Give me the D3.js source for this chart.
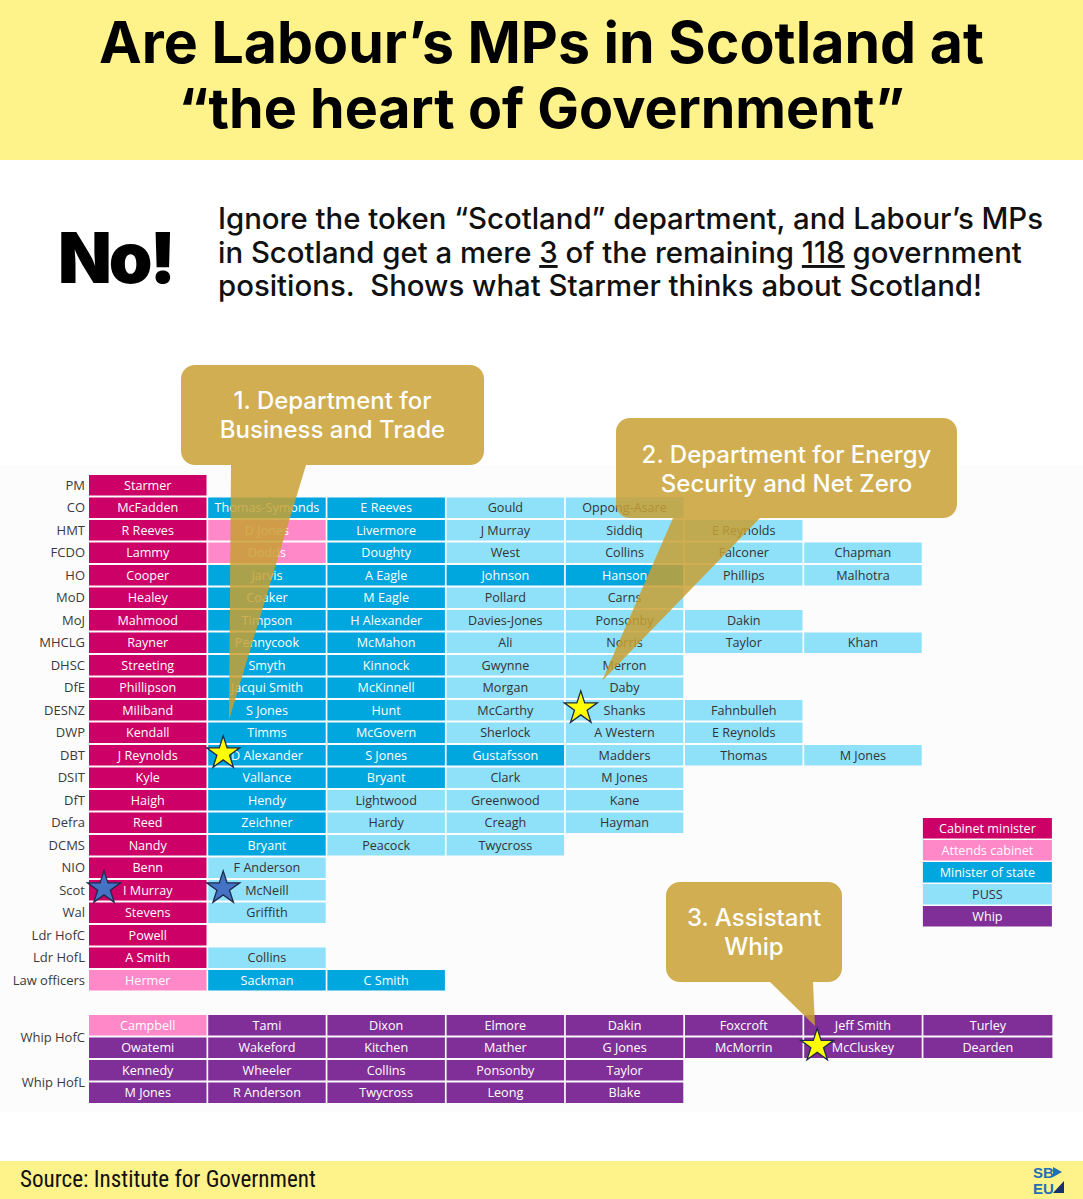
<!DOCTYPE html>
<html><head><meta charset="utf-8">
<script src="https://cdn.jsdelivr.net/npm/d3@7"></script>
<style>html,body{margin:0;padding:0;background:#fff;}svg{display:block;}</style>
</head><body>
<script>
// ---------- DATA ----------
const departments = ["PM","CO","HMT","FCDO","HO","MoD","MoJ","MHCLG","DHSC","DfE","DESNZ","DWP","DBT","DSIT","DfT","Defra","DCMS","NIO","Scot","Wal","Ldr HofC","Ldr HofL","Law officers"];
const ministers = [
  ["Starmer"],
  ["McFadden","Thomas-Symonds","E Reeves","Gould","Oppong-Asare"],
  ["R Reeves","D Jones","Livermore","J Murray","Siddiq","E Reynolds"],
  ["Lammy","Dodds","Doughty","West","Collins","Falconer","Chapman"],
  ["Cooper","Jarvis","A Eagle","Johnson","Hanson","Phillips","Malhotra"],
  ["Healey","Coaker","M Eagle","Pollard","Carns"],
  ["Mahmood","Timpson","H Alexander","Davies-Jones","Ponsonby","Dakin"],
  ["Rayner","Pennycook","McMahon","Ali","Norris","Taylor","Khan"],
  ["Streeting","Smyth","Kinnock","Gwynne","Merron"],
  ["Phillipson","Jacqui Smith","McKinnell","Morgan","Daby"],
  ["Miliband","S Jones","Hunt","McCarthy","Shanks","Fahnbulleh"],
  ["Kendall","Timms","McGovern","Sherlock","A Western","E Reynolds"],
  ["J Reynolds","D Alexander","S Jones","Gustafsson","Madders","Thomas","M Jones"],
  ["Kyle","Vallance","Bryant","Clark","M Jones"],
  ["Haigh","Hendy","Lightwood","Greenwood","Kane"],
  ["Reed","Zeichner","Hardy","Creagh","Hayman"],
  ["Nandy","Bryant","Peacock","Twycross"],
  ["Benn","F Anderson"],
  ["I Murray","McNeill"],
  ["Stevens","Griffith"],
  ["Powell"],
  ["A Smith","Collins"],
  ["Hermer","Sackman","C Smith"]
];
// C = Cabinet minister, A = Attends cabinet, M = Minister of state, P = PUSS, W = Whip
const roles = ["C","CMMPP","CAMPPP","CAMPPPP","CMMMMPP","CMMPP","CMMPPP","CMMPPPP","CMMPP","CMMPP","CMMPPP","CMMPPP","CMMMPPP","CMMPP","CMPPP","CMPPP","CMPP","CP","CP","CP","C","CP","AMM"];

const whipGroups = ["Whip HofC","Whip HofL"];
const whips = [
  ["Campbell","Tami","Dixon","Elmore","Dakin","Foxcroft","Jeff Smith","Turley"],
  ["Owatemi","Wakeford","Kitchen","Mather","G Jones","McMorrin","McCluskey","Dearden"],
  ["Kennedy","Wheeler","Collins","Ponsonby","Taylor"],
  ["M Jones","R Anderson","Twycross","Leong","Blake"]
];
const whipRoles = ["AWWWWWWW","WWWWWWWW","WWWWW","WWWWW"];

const legendKeys = ["C","A","M","P","W"];
const legendLabels = ["Cabinet minister","Attends cabinet","Minister of state","PUSS","Whip"];

// highlighted people: [row label, column index, star type]
const stars = [
  ["DBT",1,"yellow"],["DESNZ",4,"yellow"],["Scot",0,"blue"],["Scot",1,"blue"]
];
const whipStars = [[1,6,"yellow"]];

const callouts = [
  {lines:["1. Department for","Business and Trade"]},
  {lines:["2. Department for Energy","Security and Net Zero"]},
  {lines:["3. Assistant","Whip"]}
];

// ---------- STYLE ----------
const W = 1083, H = 1199;
const fills = {C:"#cc0066",A:"#ff88c8",M:"#00a6de",P:"#8fe1fa",W:"#7f2f97"};
const textFills = {C:"#ffffff",A:"#ffffff",M:"#ffffff",P:"#333333",W:"#ffffff"};
const starFills = {yellow:"#ffff00",blue:"#4472c4"};
const FONT = "'Open Sans', 'Noto Sans', sans-serif";
const HEAD = "Inter, 'Open Sans', sans-serif";

const svg = d3.select("body").append("svg").attr("width",W).attr("height",H);

function fit(sel, w){
  const len = sel.node().getComputedTextLength();
  const fs = parseFloat(sel.attr("font-size"));
  sel.attr("font-size", fs*w/len);
}

// backgrounds
svg.append("rect").attr("x",0).attr("y",0).attr("width",W).attr("height",H).attr("fill","#ffffff");
svg.append("rect").attr("x",0).attr("y",0).attr("width",W).attr("height",160).attr("fill","#fef28b");
svg.append("rect").attr("x",0).attr("y",465).attr("width",W).attr("height",647).attr("fill","#fcfcfc");
svg.append("rect").attr("x",0).attr("y",1161).attr("width",W).attr("height",38).attr("fill","#fef28b");

// title
const t1 = svg.append("text").attr("x",W/2).attr("y",63).attr("text-anchor","middle")
  .attr("font-family",HEAD).attr("font-weight",700).attr("font-size",52).attr("fill","#000")
  .text("Are Labour’s MPs in Scotland at");
fit(t1, 885);
const t2 = svg.append("text").attr("x",W/2).attr("y",128).attr("text-anchor","middle")
  .attr("font-family",HEAD).attr("font-weight",700).attr("font-size",52).attr("fill","#000")
  .text("“the heart of Government”");
fit(t2, 726);

// No!
const no = svg.append("text").attr("x",58).attr("y",283)
  .attr("font-family",HEAD).attr("font-weight",900).attr("font-size",76).attr("fill","#000")
  .attr("letter-spacing",-3).text("No!");
fit(no, 116);

// paragraph
const para = [
  [["Ignore the token “Scotland” department, and Labour’s MPs",false]],
  [["in Scotland get a mere ",false],["3",true],[" of the remaining ",false],["118",true],[" government",false]],
  [["positions.\u00a0 Shows what Starmer thinks about Scotland!",false]]
];
const paraW = [825, 812, 767];
const paraY = [229, 263, 296];
let pfs = null;
para.forEach((ln,i)=>{
  const t = svg.append("text").attr("x",218).attr("y",paraY[i])
    .attr("font-family",HEAD).attr("font-weight",500).attr("font-size",28).attr("fill","#111");
  ln.forEach(([s,u])=>{
    const ts = t.append("tspan").text(s);
    if(u) ts.attr("text-decoration","underline");
  });
  if(i===0){ fit(t, paraW[0]); pfs = parseFloat(t.attr("font-size")); }
  else t.attr("font-size", pfs);
});

// ---------- GRID ----------
const rowH = 22.5, cellH = 20.5;
const y = d3.scaleBand().domain(departments).range([475, 475 + departments.length*rowH]).paddingInner(0).paddingOuter(0);
const x = d3.scaleLinear().domain([0,1]).range([89, 89+119.2]);
const colW = c => c===7 ? 129 : 117.5;
const CELLFS = 12.6;

const cells = [];
ministers.forEach((row,ri)=>row.forEach((name,ci)=>cells.push({dept:departments[ri],col:ci,name,role:roles[ri][ci]})));

const g = svg.append("g");
const cg = g.selectAll("g.cell").data(cells).join("g").attr("class","cell")
  .attr("transform",d=>`translate(${x(d.col)},${y(d.dept)})`);
cg.append("rect").attr("width",d=>colW(d.col)).attr("height",cellH).attr("fill",d=>fills[d.role]);
cg.append("text").attr("x",d=>colW(d.col)/2).attr("y",cellH/2).attr("dy","0.36em")
  .attr("text-anchor","middle").attr("font-family",FONT).attr("font-size",CELLFS)
  .attr("fill",d=>textFills[d.role]).text(d=>d.name);

// row labels
g.selectAll("text.rl").data(departments).join("text").attr("class","rl")
  .attr("x",85).attr("y",d=>y(d)+cellH/2).attr("dy","0.36em").attr("text-anchor","end")
  .attr("font-family",FONT).attr("font-size",13).attr("fill","#3a3a3a").text(d=>d);

// ---------- WHIPS ----------
const wy = d3.scaleBand().domain(d3.range(whips.length)).range([1015, 1015 + whips.length*rowH]);
const wcells = [];
whips.forEach((row,ri)=>row.forEach((name,ci)=>wcells.push({r:ri,col:ci,name,role:whipRoles[ri][ci]})));
const wg = svg.append("g").selectAll("g").data(wcells).join("g")
  .attr("transform",d=>`translate(${x(d.col)},${wy(d.r)})`);
wg.append("rect").attr("width",d=>colW(d.col)).attr("height",cellH).attr("fill",d=>fills[d.role]);
wg.append("text").attr("x",d=>colW(d.col)/2).attr("y",cellH/2).attr("dy","0.36em")
  .attr("text-anchor","middle").attr("font-family",FONT).attr("font-size",CELLFS)
  .attr("fill",d=>textFills[d.role]).text(d=>d.name);
svg.selectAll("text.wl").data(whipGroups).join("text").attr("class","wl")
  .attr("x",85).attr("y",(d,i)=>wy(i*2)+rowH).attr("dy","0.36em").attr("text-anchor","end")
  .attr("font-family",FONT).attr("font-size",13).attr("fill","#3a3a3a").text(d=>d);

// ---------- LEGEND ----------
const lg = svg.append("g").selectAll("g").data(legendKeys).join("g")
  .attr("transform",(d,i)=>`translate(${x(7)-0.5},${818 + i*22})`);
lg.append("rect").attr("width",129).attr("height",20.5).attr("fill",d=>fills[d]);
lg.append("text").attr("x",64.5).attr("y",10.25).attr("dy","0.36em").attr("text-anchor","middle")
  .attr("font-family",FONT).attr("font-size",CELLFS).attr("fill",d=>textFills[d]).text((d,i)=>legendLabels[i]);

// ---------- CALLOUTS ----------
const gold = "rgb(200,160,50)";
const calloutGeom = [
  {x:181,y:365,w:303,h:100,tail:[[231,464],[306,464],[229,720]],ty:[400,429]},
  {x:616,y:418,w:341,h:100,tail:[[673,517],[760,517],[602,681]],ty:[454,483]},
  {x:666,y:882,w:176,h:100,tail:[[770,981],[813,981],[815,1026]],ty:[917,946]}
];
const co = svg.append("g").selectAll("g").data(callouts).join("g").attr("opacity",0.85);
co.each(function(d,i){
  const c = calloutGeom[i], s = d3.select(this);
  const path = d3.path();
  const r = 14;
  path.moveTo(c.x+r,c.y); path.lineTo(c.x+c.w-r,c.y); path.arcTo(c.x+c.w,c.y,c.x+c.w,c.y+r,r);
  path.lineTo(c.x+c.w,c.y+c.h-r); path.arcTo(c.x+c.w,c.y+c.h,c.x+c.w-r,c.y+c.h,r);
  path.lineTo(c.tail[1][0],c.y+c.h); path.lineTo(c.tail[2][0],c.tail[2][1]); path.lineTo(c.tail[0][0],c.y+c.h);
  path.lineTo(c.x+r,c.y+c.h); path.arcTo(c.x,c.y+c.h,c.x,c.y+c.h-r,r);
  path.lineTo(c.x,c.y+r); path.arcTo(c.x,c.y,c.x+r,c.y,r); path.closePath();
  s.append("path").attr("d",path.toString()).attr("fill",gold);
});
co.each(function(d,i){
  const c = calloutGeom[i];
  d.lines.forEach((ln,j)=>{
    svg.append("text").attr("x",c.x+c.w/2).attr("y",c.ty[j]).attr("dy","0.36em").attr("text-anchor","middle")
      .attr("font-family",HEAD).attr("font-weight",500).attr("font-size",24).attr("fill","#fff").text(ln);
  });
});

// ---------- STARS ----------
const starPath = d3.symbol().type(d3.symbolStar).size(340);
svg.append("g").selectAll("path").data(stars).join("path")
  .attr("d",starPath)
  .attr("transform",d=>`translate(${x(d[1])+15},${y(d[0])+cellH/2-2})`)
  .attr("fill",d=>starFills[d[2]]).attr("stroke","#1f2a4a").attr("stroke-width",1.3);
svg.append("g").selectAll("path").data(whipStars).join("path")
  .attr("d",starPath)
  .attr("transform",d=>`translate(${x(d[1])+13},${wy(d[0])+cellH/2-2})`)
  .attr("fill",d=>starFills[d[2]]).attr("stroke","#1f2a4a").attr("stroke-width",1.3);

// ---------- FOOTER ----------
const src = svg.append("text").attr("x",20).attr("y",1187)
  .attr("font-family","'Liberation Sans Narrow', 'Arial Narrow', 'Roboto Condensed', sans-serif")
  .attr("font-size",20).attr("fill","#111").text("Source: Institute for Government");
fit(src, 296);
const logo = svg.append("g").attr("transform","translate(1033,1164)");
logo.append("text").attr("x",0).attr("y",14).attr("font-family","'Liberation Sans Narrow', sans-serif")
  .attr("font-weight",700).attr("font-size",15).attr("fill","#1e6fb8").text("SB");
logo.append("text").attr("x",0).attr("y",30).attr("font-family","'Liberation Sans Narrow', sans-serif")
  .attr("font-weight",700).attr("font-size",15).attr("fill","#1e6fb8").text("EU");
logo.append("path").attr("d","M20,3 L29,8 L20,13 Z").attr("fill","#1e6fb8");
logo.append("path").attr("d","M20,29 L31,17 L31,29 Z").attr("fill","#16306e");
</script>
</body></html>
